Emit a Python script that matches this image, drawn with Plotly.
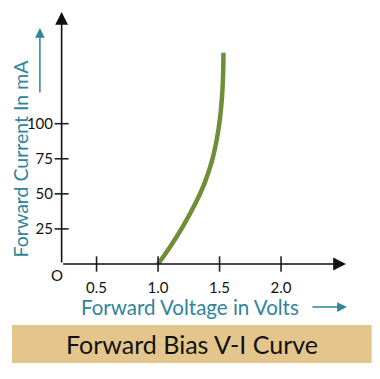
import plotly.graph_objects as go

# Data
voltage = [1.0, 1.10, 1.20, 1.30, 1.38, 1.44, 1.48, 1.505, 1.52, 1.528, 1.532]
current = [0.0, 12.5, 26.5, 42.5, 58.0, 74.0, 90.0, 105.0, 119.0, 133.0, 150.6]

x_tick_vals = [0.5, 1.0, 1.5, 2.0]
x_tick_text = ["0.5", "1.0", "1.5", "2.0"]
y_tick_vals = [25, 50, 75, 100]
y_tick_text = ["25", "50", "75", "100"]

X_MIN, X_MAX = 0.211, 2.528
Y_MIN, Y_MAX = 0.0, 179.6

TEAL = "#31849B"
GREEN = "#6E8F38"
FONT = "Lato"

fig = go.Figure()

fig.add_trace(go.Scatter(
    x=voltage, y=current, mode="lines",
    line=dict(color=GREEN, width=4.5, shape="spline", smoothing=1.0),
    hoverinfo="skip", showlegend=False,
))

# crossing tick marks
fig.add_trace(go.Scatter(
    x=[X_MIN + 0.005] * len(y_tick_vals), y=y_tick_vals, mode="markers",
    marker=dict(symbol="line-ew", size=10, line=dict(color="#222", width=1.6)),
    cliponaxis=False, hoverinfo="skip", showlegend=False,
))
fig.add_trace(go.Scatter(
    x=x_tick_vals, y=[Y_MIN] * len(x_tick_vals), mode="markers",
    marker=dict(symbol="line-ns", size=11, line=dict(color="#222", width=1.6)),
    cliponaxis=False, hoverinfo="skip", showlegend=False,
))

fig.update_xaxes(
    range=[X_MIN, X_MAX], showgrid=False, zeroline=False, showline=False, automargin=False,
    tickvals=x_tick_vals, ticktext=x_tick_text, ticks="",
    ticklabelstandoff=13, tickfont=dict(family=FONT, size=15, color="#111"),
)
fig.update_yaxes(
    range=[Y_MIN, Y_MAX], showgrid=False, zeroline=False, showline=False, automargin=False,
    tickvals=y_tick_vals, ticktext=y_tick_text, ticks="",
    ticklabelstandoff=7, tickfont=dict(family=FONT, size=15, color="#111"),
)

annotations = [
    # axes with arrowheads
    dict(x=X_MAX, y=Y_MIN, ax=X_MIN + 0.005, ay=Y_MIN, xref="x", yref="y", axref="x", ayref="y",
         text="", showarrow=True, arrowhead=2, arrowsize=1.6, arrowwidth=1.6, arrowcolor="#111"),
    dict(x=X_MIN + 0.005, y=Y_MAX, ax=X_MIN + 0.005, ay=Y_MIN, xref="x", yref="y", axref="x", ayref="y",
         text="", showarrow=True, arrowhead=2, arrowsize=1.6, arrowwidth=1.6, arrowcolor="#111"),
    # origin label
    dict(x=-0.015, y=-0.045, xref="paper", yref="paper", text="O", showarrow=False,
         font=dict(family=FONT, size=15, color="#111"), xanchor="center", yanchor="middle"),
    # axis titles
    dict(x=0.452, y=-0.171, xref="paper", yref="paper", text="Forward Voltage in Volts",
         showarrow=False, font=dict(family=FONT, size=20.5, color=TEAL), xanchor="center", yanchor="middle"),
    dict(x=-0.143, y=0.42, xref="paper", yref="paper", text="Forward Current In mA", textangle=-90,
         showarrow=False, font=dict(family=FONT, size=19.5, color=TEAL), xanchor="center", yanchor="middle",
         borderpad=0),
    # teal direction arrows
    dict(x=1.003, y=-0.171, ax=0.877, ay=-0.171, xref="x domain", yref="y domain",
         axref="x domain", ayref="y domain",
         text="", showarrow=True, arrowhead=2, arrowsize=1.3, arrowwidth=1.5, arrowcolor=TEAL),
    dict(x=-0.074, y=0.937, ax=-0.074, ay=0.675, xref="x domain", yref="y domain",
         axref="x domain", ayref="y domain",
         text="", showarrow=True, arrowhead=2, arrowsize=1.3, arrowwidth=1.5, arrowcolor=TEAL),
    # banner title
    dict(x=0.459, y=-0.317, xref="paper", yref="paper", text="Forward Bias V-I Curve",
         showarrow=False, font=dict(family=FONT, size=25, color="#111"), xanchor="center", yanchor="middle"),
]

shapes = [
    dict(type="rect", xref="paper", yref="paper", x0=-0.172, x1=1.09, y0=-0.393, y1=-0.242,
         fillcolor="#E4C68D", line=dict(width=0), layer="below"),
]

# the page body adds an 8px margin, so the figure is sized and offset to compensate
fig.update_layout(
    width=372, height=371,
    margin=dict(l=53, r=34, t=4, b=115, autoexpand=False),
    paper_bgcolor="white", plot_bgcolor="white",
    annotations=annotations, shapes=shapes,
    showlegend=False,
)

fig.write_html("out.html")
